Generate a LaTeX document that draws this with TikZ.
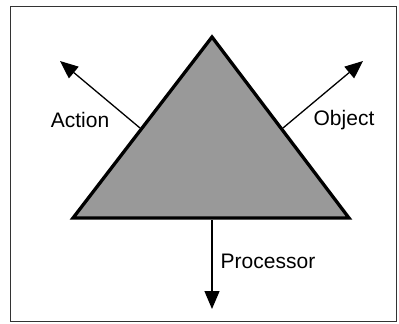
\documentclass[tikz,border=0pt]{standalone}
\usepackage{fontspec}
\setmainfont{Liberation Sans}
\usetikzlibrary{arrows.meta}
\begin{document}
\begin{tikzpicture}[x=1pt,y=-1pt,
  lbl/.style={font=\fontsize{21}{23}\selectfont, inner sep=0pt},
  arr/.style={line width=1.3pt, -{Triangle[length=18pt,width=15pt]}},
  tri/.style={line width=3.3pt, line join=miter, fill=black!40, draw=black}]
\useasboundingbox (0,0) rectangle (399,324);
\draw[line width=0.9pt, draw=black!80] (10,6) rectangle (396,321);
\coordinate (apex) at (212,37);
\coordinate (bl) at (73,218);
\coordinate (br) at (349,218);
\draw[tri] (apex) -- (bl) -- (br) -- cycle;
\coordinate (aS) at (140,128);
\coordinate (aE) at (60,61);
\coordinate (oS) at (283,128);
\coordinate (oE) at (363,61);
\coordinate (pS) at (212,220);
\coordinate (pE) at (212,309);
\draw[arr] (aS) -- (aE);
\draw[arr] (oS) -- (oE);
\draw[arr] (pS) -- (pE);
\node[lbl] (action) at (80,120) {Action};
\node[lbl] (object) at (344,120) {Object};
\node[lbl] (proc) at (268,261) {Processor};
\end{tikzpicture}
\end{document}
